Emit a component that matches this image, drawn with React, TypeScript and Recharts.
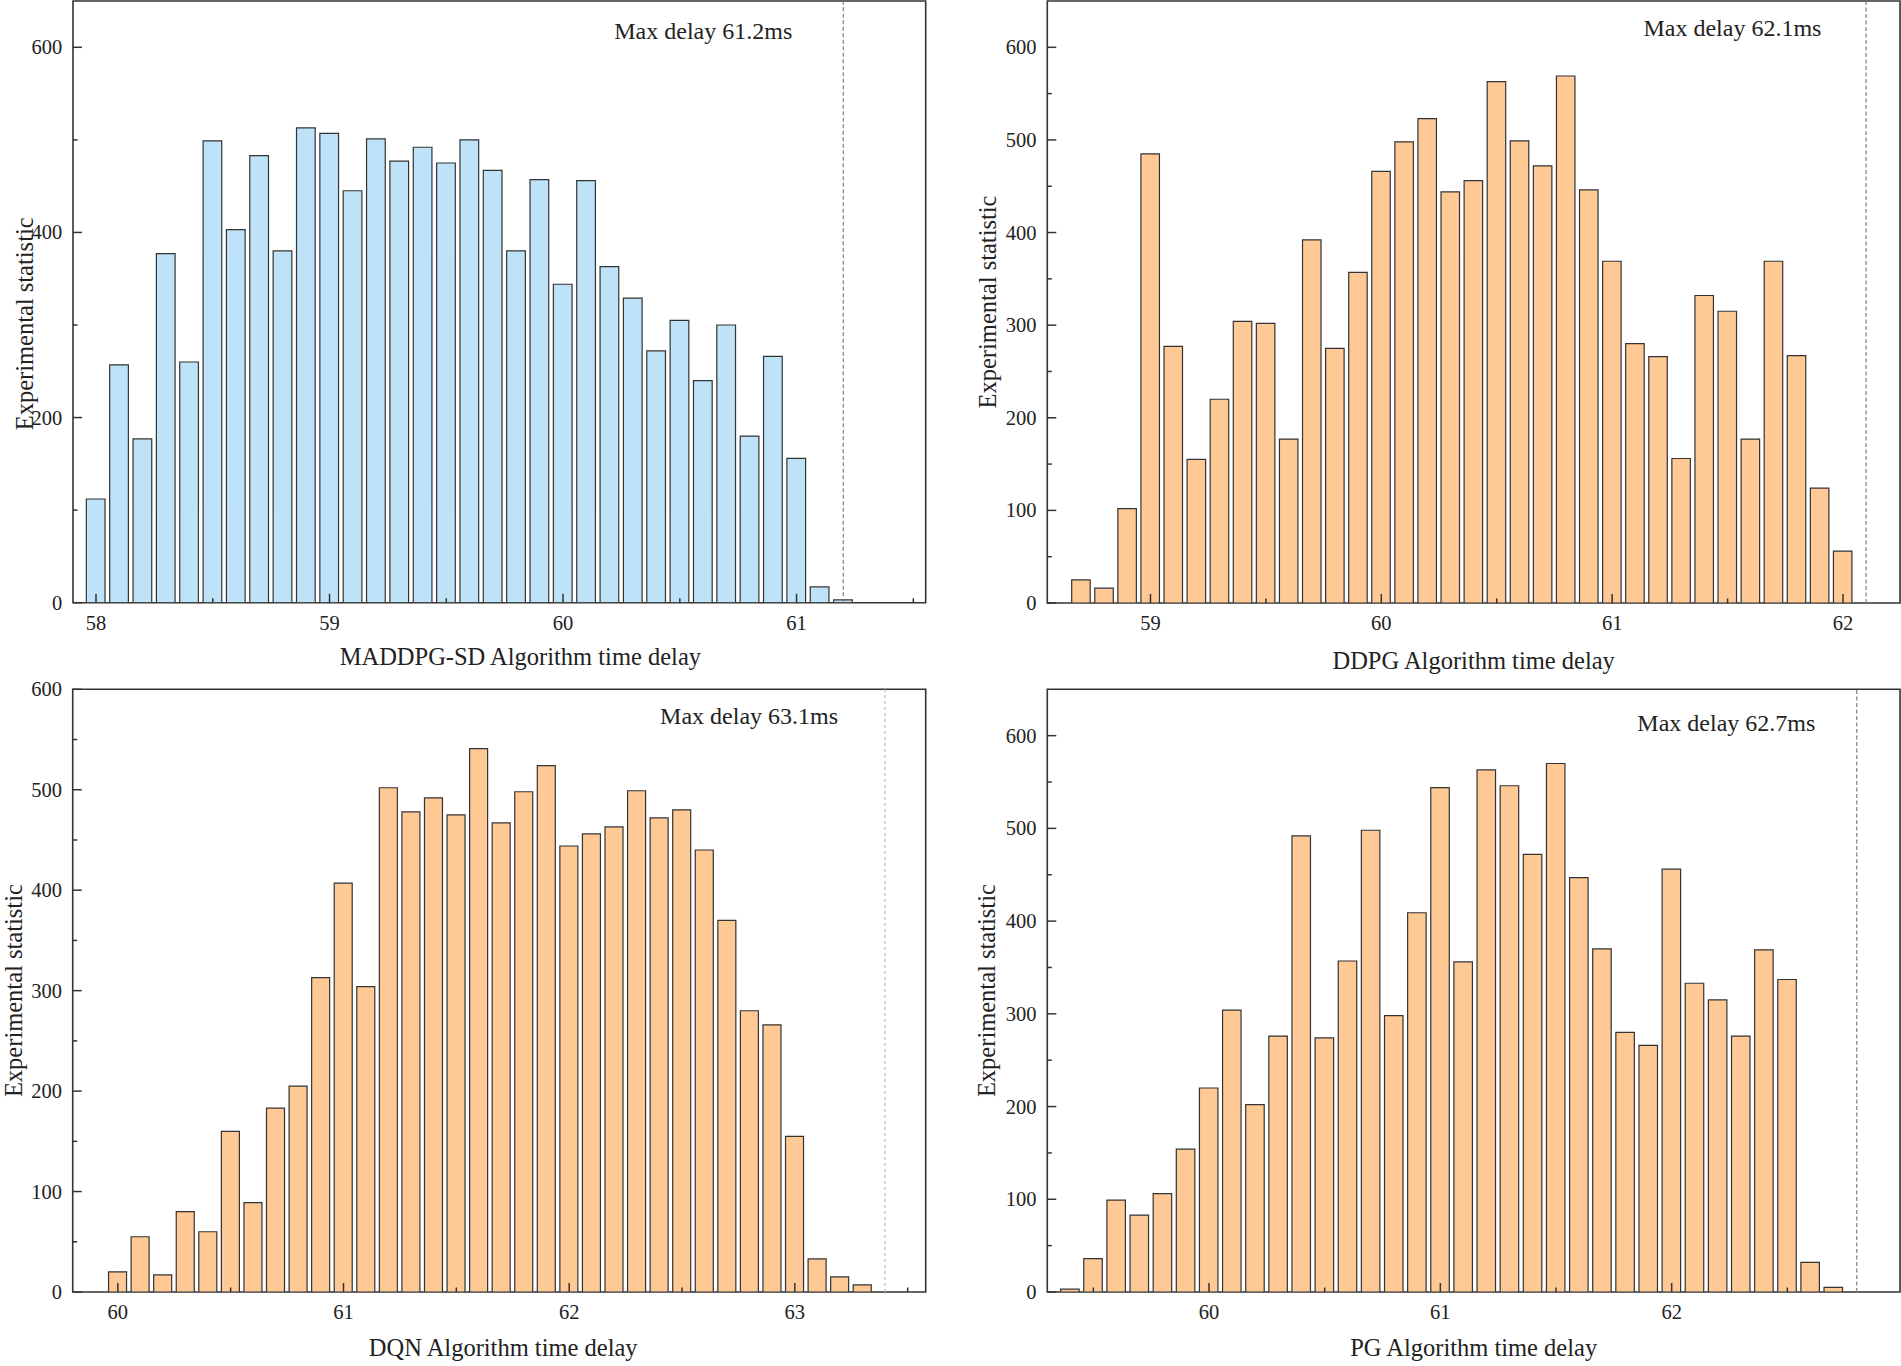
import { BarChart, Bar, XAxis, YAxis, ReferenceLine, ReferenceArea } from "recharts"

const FONT = "'Liberation Serif', 'Times New Roman', serif"
const INK = "#333333"
const BLUE = "#bee3f8"
const ORANGE = "#ffc996"

// MADDPG-SD
const maddpgBins = [58.0, 58.1, 58.2, 58.3, 58.4, 58.5, 58.6, 58.7, 58.8, 58.9, 59.0, 59.1, 59.2, 59.3, 59.4, 59.5, 59.6, 59.7, 59.8, 59.9, 60.0, 60.1, 60.2, 60.3, 60.4, 60.5, 60.6, 60.7, 60.8, 60.9, 61.0, 61.1, 61.2]
const maddpgCounts = [112, 257, 177, 377, 260, 499, 403, 483, 380, 513, 507, 445, 501, 477, 492, 475, 500, 467, 380, 457, 344, 456, 363, 329, 272, 305, 240, 300, 180, 266, 156, 17, 3]
const maddpgXMajor = [58, 59, 60, 61]
const maddpgXMinor = [58.5, 59.5, 60.5, 61.5]
const maddpgYMajor = [0, 200, 400, 600]
const maddpgYMinor = [100, 300, 500]

// DDPG
const ddpgBins = [58.7, 58.8, 58.9, 59.0, 59.1, 59.2, 59.3, 59.4, 59.5, 59.6, 59.7, 59.8, 59.9, 60.0, 60.1, 60.2, 60.3, 60.4, 60.5, 60.6, 60.7, 60.8, 60.9, 61.0, 61.1, 61.2, 61.3, 61.4, 61.5, 61.6, 61.7, 61.8, 61.9, 62.0]
const ddpgCounts = [25, 16, 102, 485, 277, 155, 220, 304, 302, 177, 392, 275, 357, 466, 498, 523, 444, 456, 563, 499, 472, 569, 446, 369, 280, 266, 156, 332, 315, 177, 369, 267, 124, 56]
const ddpgXMajor = [59, 60, 61, 62]
const ddpgXMinor = [59.5, 60.5, 61.5]

// DQN
const dqnBins = [60.0, 60.1, 60.2, 60.3, 60.4, 60.5, 60.6, 60.7, 60.8, 60.9, 61.0, 61.1, 61.2, 61.3, 61.4, 61.5, 61.6, 61.7, 61.8, 61.9, 62.0, 62.1, 62.2, 62.3, 62.4, 62.5, 62.6, 62.7, 62.8, 62.9, 63.0, 63.1, 63.2, 63.3]
const dqnCounts = [20, 55, 17, 80, 60, 160, 89, 183, 205, 313, 407, 304, 502, 478, 492, 475, 541, 467, 498, 524, 444, 456, 463, 499, 472, 480, 440, 370, 280, 266, 155, 33, 15, 7]
const dqnXMajor = [60, 61, 62, 63]
const dqnXMinor = [60.5, 61.5, 62.5, 63.5]

// PG
const pgBins = [59.4, 59.5, 59.6, 59.7, 59.8, 59.9, 60.0, 60.1, 60.2, 60.3, 60.4, 60.5, 60.6, 60.7, 60.8, 60.9, 61.0, 61.1, 61.2, 61.3, 61.4, 61.5, 61.6, 61.7, 61.8, 61.9, 62.0, 62.1, 62.2, 62.3, 62.4, 62.5, 62.6, 62.7]
const pgCounts = [3, 36, 99, 83, 106, 154, 220, 304, 202, 276, 492, 274, 357, 498, 298, 409, 544, 356, 563, 546, 472, 570, 447, 370, 280, 266, 456, 333, 315, 276, 369, 337, 32, 5]
const pgXMajor = [60, 61, 62]
const pgXMinor = [59.5, 60.5, 61.5, 62.5]

const hundredsMajor = [0, 100, 200, 300, 400, 500, 600]
const fiftiesMinor = [50, 150, 250, 350, 450, 550]

const panels = [
  {
    bins: maddpgBins, counts: maddpgCounts, fill: BLUE,
    xMajor: maddpgXMajor, xMinor: maddpgXMinor, yMajor: maddpgYMajor, yMinor: maddpgYMinor,
    xDomain: [57.9015, 61.553], yDomain: [0, 650], maxDelay: 61.2,
    note: "Max delay 61.2ms", title: "MADDPG-SD Algorithm time delay",
    left: 0, top: 0, width: 940, height: 683,
    margin: { top: 1, right: 14.3, left: 0, bottom: 0 }, yAxisWidth: 73, xAxisHeight: 80.3,
    barSize: 18.7, noteGap: 51, noteY: 38, titleDx: 21, titleY: 62, yLabelX: 25, yLabelDy: 22,
    dash: "4 2.5", dashColor: "#808080",
  },
  {
    bins: ddpgBins, counts: ddpgCounts, fill: ORANGE,
    xMajor: ddpgXMajor, xMinor: ddpgXMinor, yMajor: hundredsMajor, yMinor: fiftiesMinor,
    xDomain: [58.553, 62.247], yDomain: [0, 650], maxDelay: 62.1,
    note: "Max delay 62.1ms", title: "DDPG Algorithm time delay",
    left: 975, top: 0, width: 926, height: 683,
    margin: { top: 1, right: 1, left: 0, bottom: 0 }, yAxisWidth: 72.3, xAxisHeight: 80,
    barSize: 18.5, noteGap: 44.6, noteY: 35, titleDx: 0, titleY: 66, yLabelX: 12, yLabelDy: 0,
    dash: "4 2.5", dashColor: "#808080",
  },
  {
    bins: dqnBins, counts: dqnCounts, fill: ORANGE,
    xMajor: dqnXMajor, xMinor: dqnXMinor, yMajor: hundredsMajor, yMinor: fiftiesMinor,
    xDomain: [59.8, 63.58], yDomain: [0, 600], maxDelay: 63.4,
    note: "Max delay 63.1ms", title: "DQN Algorithm time delay",
    left: 0, top: 670, width: 940, height: 696,
    margin: { top: 19.3, right: 14.3, left: 0, bottom: 0 }, yAxisWidth: 72.7, xAxisHeight: 74,
    barSize: 18, noteGap: 47, noteY: 35, titleDx: 4, titleY: 64, yLabelX: 14, yLabelDy: 0,
    dash: "3 3", dashColor: "#b8b8b8",
  },
  {
    bins: pgBins, counts: pgCounts, fill: ORANGE,
    xMajor: pgXMajor, xMinor: pgXMinor, yMajor: hundredsMajor, yMinor: fiftiesMinor,
    xDomain: [59.301, 62.987], yDomain: [0, 650], maxDelay: 62.8,
    note: "Max delay 62.7ms", title: "PG Algorithm time delay",
    left: 975, top: 670, width: 926, height: 696,
    margin: { top: 19.3, right: 1, left: 0, bottom: 0 }, yAxisWidth: 72.3, xAxisHeight: 74,
    barSize: 18.5, noteGap: 41.4, noteY: 42, titleDx: 0, titleY: 64, yLabelX: 12, yLabelDy: 0,
    dash: "4 2.5", dashColor: "#808080",
  },
]

function XTick(props: any) {
  const { x, y, payload, major } = props
  const isMajor = major.includes(payload.value)
  return (
    <g>
      <line x1={x} x2={x} y1={y} y2={y - (isMajor ? 9 : 4.5)} stroke={INK} strokeWidth={1.5} />
      {isMajor && (
        <text x={x} y={y + 27} textAnchor="middle" fontFamily={FONT} fontSize={20.5} fill="#222">
          {payload.value}
        </text>
      )}
    </g>
  )
}

function YTick(props: any) {
  const { x, y, payload, major } = props
  const isMajor = major.includes(payload.value)
  return (
    <g>
      <line x1={x} x2={x + (isMajor ? 9 : 4.5)} y1={y} y2={y} stroke={INK} strokeWidth={1.5} />
      {isMajor && (
        <text x={x - 10.7} y={y + 7} textAnchor="end" fontFamily={FONT} fontSize={20.5} fill="#222">
          {payload.value}
        </text>
      )}
    </g>
  )
}

function Panel({ cfg }: { cfg: any }) {
  const data = cfg.bins.map((x: number, i: number) => ({ x, count: cfg.counts[i] }))
  return (
    <div style={{ position: "absolute", left: cfg.left, top: cfg.top }}>
      <BarChart width={cfg.width} height={cfg.height} data={data} margin={cfg.margin}>
        <XAxis
          dataKey="x"
          type="number"
          domain={cfg.xDomain}
          ticks={[...cfg.xMajor, ...cfg.xMinor]}
          interval={0}
          allowDataOverflow
          axisLine={false}
          tickLine={false}
          tickSize={0}
          tickMargin={0}
          height={cfg.xAxisHeight}
          tick={(p: any) => <XTick {...p} major={cfg.xMajor} />}
          label={(p: any) => {
            const vb = p.viewBox || {}
            return (
              <text x={vb.x + vb.width / 2 + cfg.titleDx} y={vb.y + cfg.titleY} textAnchor="middle" fontFamily={FONT} fontSize={24.5} fill="#222">
                {cfg.title}
              </text>
            )
          }}
        />
        <YAxis
          type="number"
          domain={cfg.yDomain}
          ticks={[...cfg.yMajor, ...cfg.yMinor]}
          interval={0}
          allowDataOverflow
          axisLine={false}
          tickLine={false}
          tickSize={0}
          tickMargin={0}
          width={cfg.yAxisWidth}
          tick={(p: any) => <YTick {...p} major={cfg.yMajor} />}
          label={(p: any) => {
            const vb = p.viewBox || {}
            const cy = vb.y + vb.height / 2 + cfg.yLabelDy
            return (
              <text x={cfg.yLabelX} y={cy} transform={`rotate(-90 ${cfg.yLabelX} ${cy})`} textAnchor="middle" dominantBaseline="central" fontFamily={FONT} fontSize={24.5} fill="#222">
                Experimental statistic
              </text>
            )
          }}
        />
        <Bar dataKey="count" fill={cfg.fill} stroke={INK} strokeWidth={1.2} barSize={cfg.barSize} isAnimationActive={false} />
        <ReferenceLine
          x={cfg.maxDelay}
          stroke={cfg.dashColor}
          strokeWidth={1.2}
          strokeDasharray={cfg.dash}
          label={(p: any) => {
            const vb = p.viewBox || {}
            return (
              <text x={vb.x - cfg.noteGap} y={vb.y + cfg.noteY} textAnchor="end" fontFamily={FONT} fontSize={24} fill="#222">
                {cfg.note}
              </text>
            )
          }}
        />
        <ReferenceArea
          x1={cfg.xDomain[0]}
          x2={cfg.xDomain[1]}
          y1={cfg.yDomain[0]}
          y2={cfg.yDomain[1]}
          fill="none"
          stroke={INK}
          strokeWidth={1.6}
          ifOverflow="visible"
        />
      </BarChart>
    </div>
  )
}

export default function App() {
  return (
    <div style={{ position: "absolute", left: 0, top: 0, width: 1901, height: 1366, background: "#fff", overflow: "hidden" }}>
      {panels.map((cfg, i) => (
        <Panel key={i} cfg={cfg} />
      ))}
    </div>
  )
}
